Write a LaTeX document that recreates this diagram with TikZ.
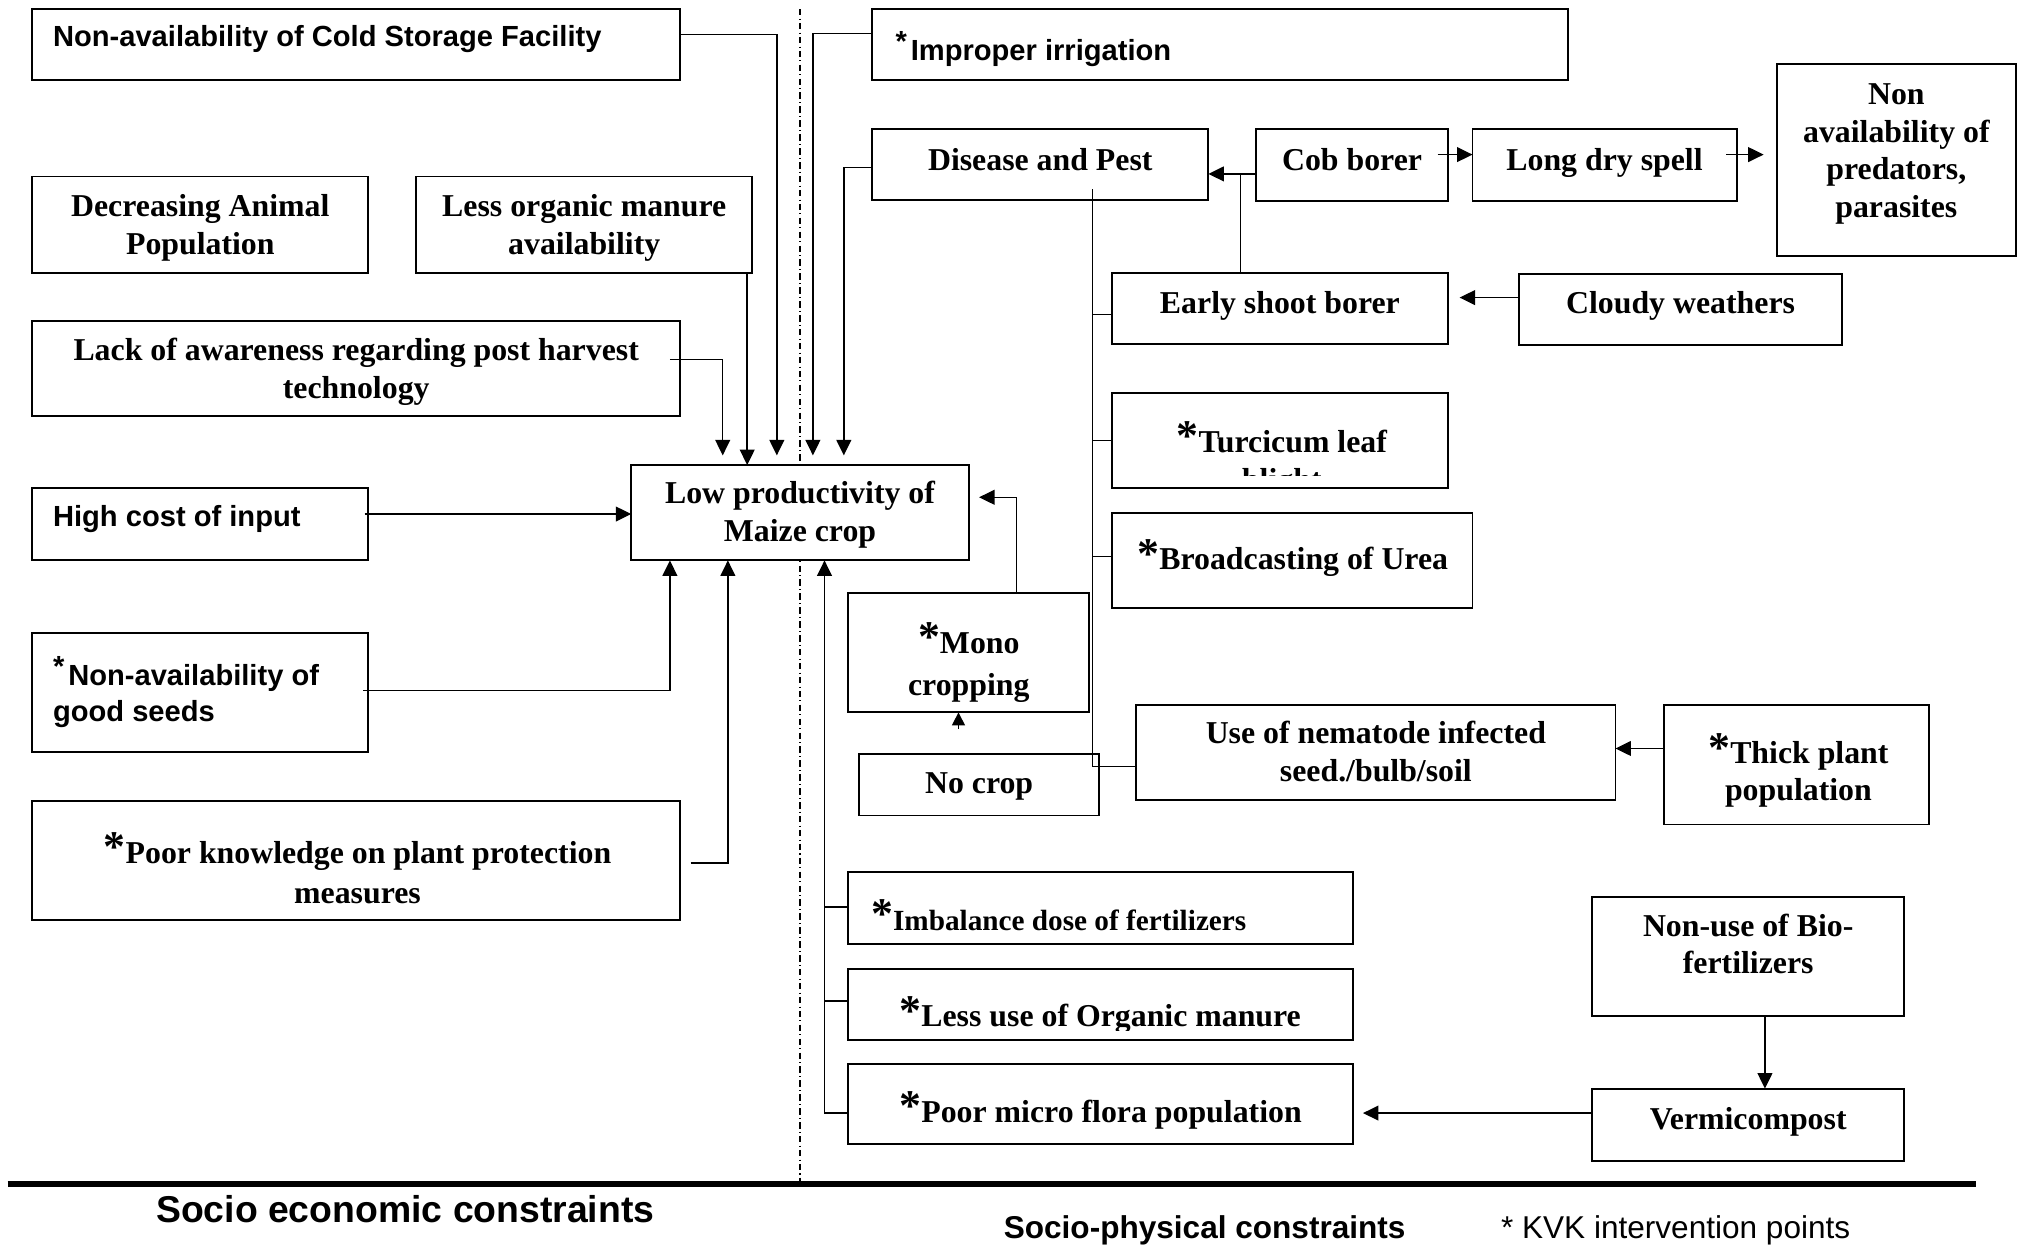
\documentclass[tikz,border=0pt]{standalone}
\usepackage{fontspec}
\setmainfont{Liberation Serif}
\newfontfamily\arfont{Liberation Sans}
\usetikzlibrary{arrows.meta}
\newcommand{\tast}{\raisebox{1pt}{\fontsize{34}{34}\selectfont *}}
\newcommand{\aast}{\raisebox{7pt}{*}\kern3pt}
\newcommand{\mkbox}[5]{\node[bx, minimum width={(#4-#2)*1pt}, minimum height={(#5-#3)*1pt}] (#1) at ({(#2+#4)/2},{(#3+#5)/2}) {};}
\begin{document}
\begin{tikzpicture}[x=1pt,y=-1pt,
  bx/.style={draw, fill=white, line width=1.5pt, inner sep=0pt, outer sep=0pt, rectangle},
  ln/.style={line width=1.1pt},
  arr/.style={line width=1.1pt, -{Triangle[length=12pt,width=11.5pt]}},
  tmtxt/.style={font=\fontsize{24.7}{29.5}\selectfont\bfseries, align=center, inner sep=0pt, anchor=base},
  artxt/.style={font=\arfont\fontsize{22.6}{28}\selectfont\bfseries, align=left, inner sep=0pt, anchor=base west}]
\useasboundingbox (0,0) rectangle (1568,966);
\fill[white] (0,0) rectangle (1568,966);

% separators
\draw[line width=1pt, dash pattern=on 5pt off 2.5pt on 0.8pt off 2.5pt] (621,7) -- (621,919);
\draw[line width=4.5pt] (6,919) -- (1534,919);

% boxes
\mkbox{cold}{25}{7}{528}{62}
\mkbox{irr}{677}{7}{1217}{62}
\mkbox{dap}{25}{137}{286}{212}
\mkbox{lom}{323}{137}{584}{212}
\mkbox{lap}{25}{249}{528}{323}
\mkbox{dis}{677}{100}{938}{155}
\mkbox{cob}{975}{100}{1124}{156}
\mkbox{lds}{1143}{100}{1348}{156}
\mkbox{nap}{1379}{50}{1565}{199}
\mkbox{esb}{863}{212}{1124}{267}
\mkbox{cw}{1179}{213}{1430}{268}
\mkbox{tlb}{863}{305}{1124}{379}
\mkbox{bou}{863}{398}{1143}{472}
\mkbox{lp}{490}{361}{752}{435}
\mkbox{hci}{25}{379}{286}{435}
\mkbox{ngs}{25}{491}{286}{584}
\mkbox{pkp}{25}{622}{528}{714}
\mkbox{mono}{658}{460}{845}{553}
\mkbox{nc}{667}{585}{853}{633}
\mkbox{une}{882}{547}{1254}{621}
\mkbox{tpp}{1292}{547}{1497}{640}
\mkbox{idf}{658}{677}{1050}{733}
\mkbox{luo}{658}{752}{1050}{807}
\mkbox{pmf}{658}{826}{1050}{888}
\mkbox{nub}{1236}{696}{1478}{789}
\mkbox{vc}{1236}{845}{1478}{901}

% texts (Arial)
\node[artxt] (t-cold) at (41,36) {Non-availability of Cold Storage Facility};
\node[artxt] (t-irr) at (695,47) {\aast Improper irrigation};
\node[artxt] (t-hci) at (41,409) {High cost of input};
\node[artxt] (t-ngs) at (41,560) {\aast Non-availability of\\good seeds};

% texts (Times); base anchor = baseline of the last line
\node[tmtxt] (t-dap) at (155.5,197.5) {Decreasing Animal\\Population};
\node[tmtxt] (t-lom) at (453.5,197.5) {Less organic manure\\availability};
\node[tmtxt] (t-lap) at (276.5,309.5) {Lack of awareness regarding post harvest\\technology};
\node[tmtxt] (t-dis) at (807.5,132) {Disease and Pest};
\node[tmtxt] (t-cob) at (1049.5,132) {Cob borer};
\node[tmtxt] (t-lds) at (1245.5,132) {Long dry spell};
\node[tmtxt] (t-nap) at (1472,168.5) {Non\\[-0.5pt]availability of\\[-0.5pt]predators,\\[-0.5pt]parasites};
\node[tmtxt] (t-esb) at (993.5,243) {Early shoot borer};
\node[tmtxt] (t-cw) at (1304.5,243) {Cloudy weathers};
\begin{scope}
\clip (864,306) rectangle (1123,369);
\node[tmtxt] (t-tlb) at (995,380.5) {\tast Turcicum leaf\\blight};
\end{scope}
\node[tmtxt] (t-bou) at (1003.5,442) {\tast Broadcasting of Urea};
\node[tmtxt] (t-lp) at (621,420) {Low productivity of\\Maize crop};
\node[tmtxt] (t-pkp) at (277.5,701) {\tast Poor knowledge on plant protection\\[1.5pt]measures};
\node[tmtxt] (t-mono) at (752,540) {\tast Mono\\[3.5pt]cropping};
\node[tmtxt] (t-nc) at (760,616) {No crop};
\node[tmtxt] (t-une) at (1068,607) {Use of nematode infected\\seed./bulb/soil};
\node[tmtxt] (t-tpp) at (1396,621) {\tast Thick plant\\[-1.5pt]population};
\node[tmtxt, anchor=base west, font=\fontsize{22.7}{28}\selectfont\bfseries] (t-idf) at (676,722) {\tast Imbalance dose of fertilizers};
\begin{scope}
\clip (659,753) rectangle (1049,800);
\node[tmtxt, anchor=base west] (t-luo) at (698,797) {\tast Less use of Organic manure};
\end{scope}
\node[tmtxt, anchor=base west] (t-pmf) at (698,871) {\tast Poor micro flora population};
\node[tmtxt] (t-nub) at (1357,755.5) {Non-use of Bio-\\[-1pt]fertilizers};
\node[tmtxt] (t-vc) at (1357,877) {Vermicompost};

% bottom labels
\node[anchor=base west, inner sep=0pt, font=\arfont\bfseries\fontsize{29}{34}\selectfont] (lab-se) at (121,949) {Socio economic constraints};
\node[anchor=base west, inner sep=0pt, font=\arfont\bfseries\fontsize{24.5}{29}\selectfont] (lab-sp) at (779,961) {Socio-physical constraints};
\node[anchor=base west, inner sep=0pt, font=\arfont\fontsize{24.5}{29}\selectfont] (lab-kvk) at (1165,961) {* KVK intervention points};

% connectors into Low productivity (top)
\draw[arr, shorten >=7.5pt] (cold.east |- 0,27) -| (603,0 |- lp.north);
\draw[arr] (580,0 |- lom.south) -- (580,0 |- lp.north);
\draw[arr, shorten >=7.5pt, shorten <=-8pt] (lap.east |- 0,279) -| (561,0 |- lp.north);
\draw[arr, shorten >=7.5pt] (irr.west |- 0,26) -| (631,0 |- lp.north);
\draw[arr, shorten >=7.5pt] (dis.west |- 0,130) -| (655,0 |- lp.north);
% left and bottom
\draw[arr, shorten <=-3pt] (hci.east |- 0,399) -- (lp.west |- 0,399);
\draw[arr, shorten <=-4pt] (ngs.east |- 0,536) -| (520,0 |- lp.south);
\draw[arr, shorten <=8pt] (pkp.east |- 0,670) -| (565,0 |- lp.south);
\draw[arr] (pmf.west |- 0,864) -| (640,0 |- lp.south);
\draw[ln] (idf.west |- 0,704) -- ++(-18,0);
\draw[ln] (luo.west |- 0,777) -- ++(-18,0);
% right side
\draw[arr, shorten >=8pt] (789,0 |- mono.north) |- (lp.east |- 0,386);
\coordinate (ncup) at (744,566);
\draw[arr, -{Triangle[length=10pt,width=10pt]}] (ncup) -- (ncup |- mono.south);
\coordinate (dbr) at (848,147);
\draw[ln] (dbr) |- (une.west |- 0,595);
\draw[ln] (esb.west |- 0,244) -- ++(-15,0);
\draw[ln] (tlb.west |- 0,342) -- ++(-15,0);
\draw[ln] (bou.west |- 0,432) -- ++(-15,0);
\draw[arr] (963,0 |- esb.north) |- (dis.east |- 0,135);
\draw[ln] (cob.west |- 0,135) -- (963,135);
\draw[arr, shorten <=-8pt] (cob.east |- 0,120) -- (lds.west |- 0,120);
\draw[arr, shorten <=-8pt, shorten >=10pt] (lds.east |- 0,120) -- (nap.west |- 0,120);
\draw[arr, shorten >=9pt] (cw.west |- 0,231) -- (esb.east |- 0,231);
\draw[arr] (tpp.west |- 0,581) -- (une.east |- 0,581);
\draw[arr, shorten >=8pt] (vc.west |- 0,864) -- (pmf.east |- 0,864);
\draw[arr] (1370,0 |- nub.south) -- (1370,0 |- vc.north);
\end{tikzpicture}
\end{document}
